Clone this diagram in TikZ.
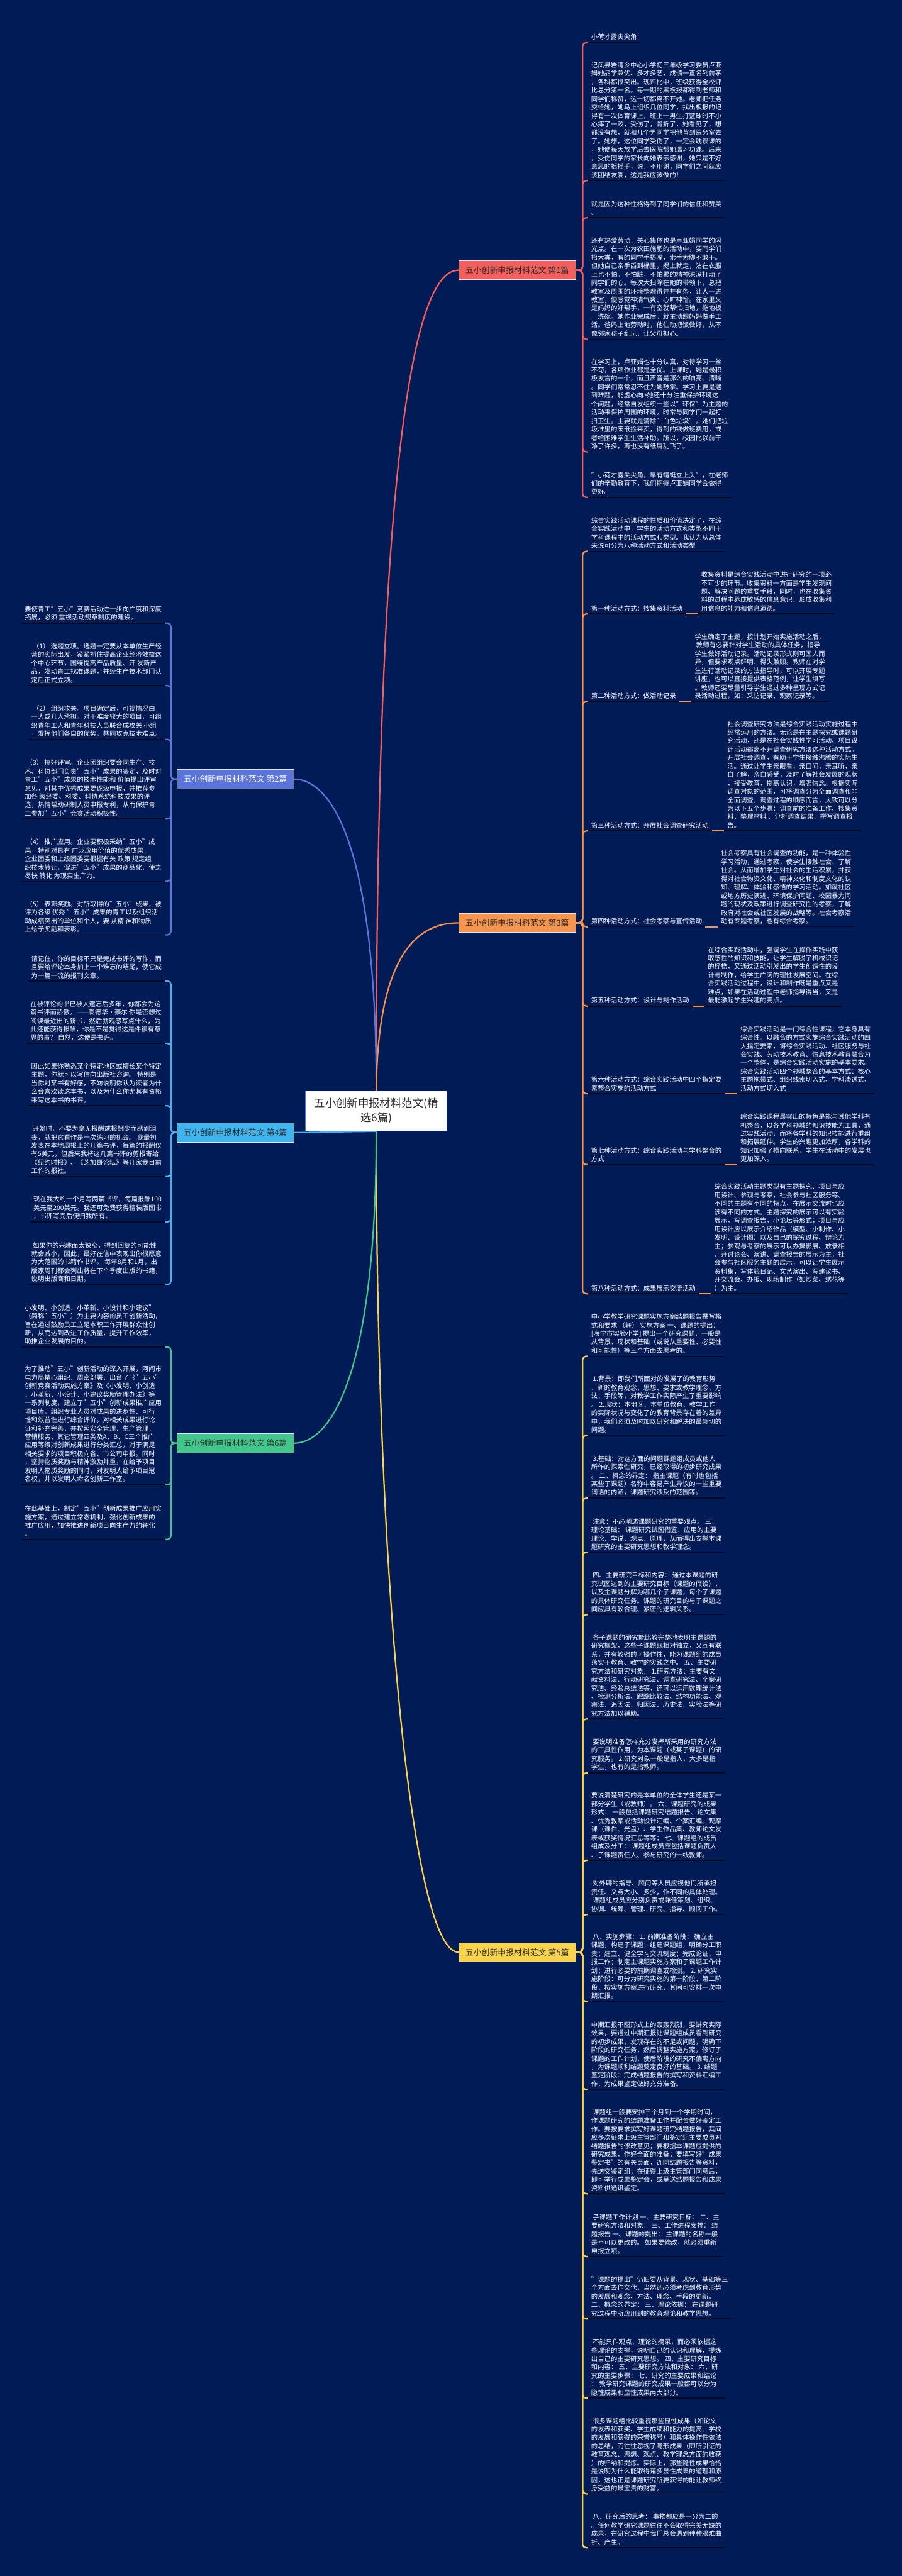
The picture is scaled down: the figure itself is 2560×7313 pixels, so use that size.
\documentclass[tikz,border=0pt]{standalone}
\usepackage{fontspec}
\setmainfont{Noto Sans CJK SC}
\usetikzlibrary{positioning,backgrounds}

% 颜色
\definecolor{bgnavy}{HTML}{011B56}
\definecolor{ulinecol}{HTML}{04081C}
\definecolor{txtdark}{HTML}{2B2B2B}
\definecolor{rootline}{HTML}{4A78DC}
\definecolor{c1col}{HTML}{F25F5C}
\definecolor{c2col}{HTML}{5B74DA}
\definecolor{c3col}{HTML}{F7944E}
\definecolor{c4col}{HTML}{3FB5F0}
\definecolor{c5col}{HTML}{FBD44B}
\definecolor{c6col}{HTML}{41C78C}

\newcommand{\leaffont}{\fontsize{18.5}{24}\selectfont}
\newcommand{\branchfont}{\fontsize{23}{26}\selectfont}
\newcommand{\rootfont}{\fontsize{31}{42}\selectfont}

\tikzset{
  leaf/.style={align=left, text=white, font=\leaffont, inner xsep=9, inner ysep=7},
  uline/.style={draw=ulinecol, line width=3},
  branch/.style={draw=white!80!gray, line width=1.2, minimum width=332, minimum height=54,
    inner xsep=13, font=\branchfont},
  root/.style={fill=white, draw=rootline, line width=2, minimum width=402, minimum height=114,
    align=center, text=txtdark, font=\rootfont},
  link/.style={line width=4, line cap=round},
  spine/.style={line width=4, rounded corners=10},
}

\begin{document}
\begin{tikzpicture}[x=1pt, y=-1pt]
\useasboundingbox (0,0) rectangle (2560,7313);

% 中心主题
\node[root] (root) at (1068,3154) {五小创新申报材料范文(精\\选6篇)};

% 六个分支
\node[branch, fill=c1col, text=txtdark] (b1) at (1468,767) {五小创新申报材料范文 第1篇};
\node[branch, fill=c2col, text=white] (b2) at (668,2212) {五小创新申报材料范文 第2篇};
\node[branch, fill=c3col, text=txtdark] (b3) at (1468,2620) {五小创新申报材料范文 第3篇};
\node[branch, fill=c4col, text=txtdark] (b4) at (668,3215) {五小创新申报材料范文 第4篇};
\node[branch, fill=c5col, text=txtdark] (b5) at (1468,5542) {五小创新申报材料范文 第5篇};
\node[branch, fill=c6col, text=txtdark] (b6) at (668,4097) {五小创新申报材料范文 第6篇};

% 第1篇
\node[leaf, anchor=south west] (r1) at (1669,121) {小荷才露尖尖角};
\node[leaf, anchor=south west] (r2) at (1669,513) {记凤县岩湾乡中心小学初三年级学习委员卢亚\\
娟她品学兼优、多才多艺，成绩一直名列前茅\\
，各科都很突出。现评比中，班级获得全校评\\
比总分第一名。每一期的黑板报都得到老师和\\
同学们称赞，这一切都离不开她。老师把任务\\
交给她，她马上组织几位同学，找出板报的记\\
得有一次体育课上，班上一男生打蓝球时不小\\
心摔了一跤，受伤了，骨折了，她看见了，想\\
都没有想，就和几个男同学把他背到医务室去\\
了。她想，这位同学受伤了，一定会耽误课的\\
，她便每天放学后去医院帮她温习功课。后来\\
，受伤同学的家长向她表示感谢，她只是不好\\
意思的摇摇手，说：不用谢，同学们之间就应\\
该团结友爱，这是我应该做的！};
\node[leaf, anchor=south west] (r3) at (1669,618) {就是因为这种性格得到了同学们的信任和赞美\\
。};
\node[leaf, anchor=south west] (r4) at (1669,963) {还有热爱劳动，关心集体也是卢亚娟同学的闪\\
光点。在一次为农田施肥的活动中，要同学们\\
抬大粪，有的同学手捂嘴，索手索脚不敢干。\\
但她自己亲手舀到桶里，提上就走，沾在衣服\\
上也不怕。不怕脏，不怕累的精神深深打动了\\
同学们的心。每次大扫除在她的带领下，总把\\
教室及周围的环境整理得井井有条，让人一进\\
教室，便感觉神清气爽、心旷神怡。在家里又\\
是妈妈的好帮手，一有空就帮忙扫地，拖地板\\
，洗碗。她作业完成后，就主动跟妈妈做手工\\
活。爸妈上地劳动时，他住动把饭做好，从不\\
像邻家孩子乱玩，让父母担心。};
\node[leaf, anchor=south west] (r5) at (1669,1283) {在学习上，卢亚娟也十分认真，对待学习一丝\\
不苟，各项作业都是全优。上课时，她是最积\\
极发言的一个，而且声音是那么的响亮、清晰\\
。同学们常常忍不住为她鼓掌。学习上要是遇\\
到难题，能虚心向>她还十分注重保护环境这\\
个问题，经常自发组织一些以"环保"为主题的\\
活动来保护周围的环境。时常与同学们一起打\\
扫卫生。主要就是清除"白色垃圾"。她们把垃\\
圾堆里的废纸捡来卖，得到的钱做班费用，或\\
者给困难学生生活补助。所以，校园比以前干\\
净了许多，再也没有纸屑乱飞了。};
\node[leaf, anchor=south west] (r6) at (1669,1412) {"小荷才露尖尖角，早有蜻蜓立上头"，在老师\\
们的辛勤教育下，我们期待卢亚娟同学会做得\\
更好。};

% 第3篇
\node[leaf, anchor=south west] (t0) at (1669,1565) {综合实践活动课程的性质和价值决定了，在综\\
合实践活动中，学生的活动方式和类型不同于\\
学科课程中的活动方式和类型。我认为从总体\\
来说可分为八种活动方式和活动类型};
\node[leaf, anchor=south west] (k1) at (1669,1743) {第一种活动方式：搜集资料活动};
\node[leaf, anchor=south west] (k1-d) at ([xshift=35]k1.south east) {收集资料是综合实践活动中进行研究的一项必\\
不可少的环节。收集资料一方面是学生发现问\\
题、解决问题的重要手段，同时，也在收集资\\
料的过程中养成敏感的信息意识、形成收集利\\
用信息的能力和信息道德。};
\node[leaf, anchor=south west] (k2) at (1669,1992) {第二种活动方式：做活动记录};
\node[leaf, anchor=south west] (k2-d) at ([xshift=35]k2.south east) {学生确定了主题，按计划开始实施活动之后，\\
\ 教师有必要针对学生活动的具体任务，指导\\
学生做好活动记录。活动记录形式则可因人而\\
异，但要求观点鲜明、得失兼顾。教师在对学\\
生进行活动记录的方法指导时，可以开展专题\\
讲座，也可以直接提供表格范例，让学生填写\\
。教师还要尽量引导学生通过多种呈现方式记\\
录活动过程，如：采访记录、观察记录等。};
\node[leaf, anchor=south west] (k3) at (1669,2359) {第三种活动方式：开展社会调查研究活动};
\node[leaf, anchor=south west] (k3-d) at ([xshift=35]k3.south east) {社会调查研究方法是综合实践活动实施过程中\\
经常运用的方法。无论是在主题探究或课题研\\
究活动，还是在社会实践性学习活动、项目设\\
计活动都离不开调查研究方法这种活动方式。\\
开展社会调查，有助于学生接触沸腾的实际生\\
活。通过让学生亲眼看，亲口问，亲耳听，亲\\
自了解，亲自感受，及时了解社会发展的现状\\
，接受教育，提高认识，增强信念。根据实际\\
调查对象的范围，可将调查分为全面调查和非\\
全面调查。调查过程的顺序而言，大致可以分\\
为以下五个步骤：调查前的准备工作、搜集资\\
料、整理材料 、分析调查结果、撰写调查报\\
告。};
\node[leaf, anchor=south west] (k4) at (1669,2631) {第四种活动方式：社会考察与宣传活动};
\node[leaf, anchor=south west] (k4-d) at ([xshift=35]k4.south east) {社会考察具有社会调查的功能，是一种体验性\\
学习活动，通过考察，使学生接触社会、了解\\
社会。从而增加学生对社会的生活积累，并获\\
得对社会物资文化、精神文化和制度文化的认\\
知、理解、体验和感悟的学习活动。如就社区\\
或地方历史演进、环境保护问题、校园暴力问\\
题的现状及政策进行调查研究性的考察，了解\\
政府对社会或社区发展的战略等。社会考察活\\
动有专题考察，也有综合考察。};
\node[leaf, anchor=south west] (k5) at (1669,2856) {第五种活动方式：设计与制作活动};
\node[leaf, anchor=south west] (k5-d) at ([xshift=35]k5.south east) {在综合实践活动中，强调学生在操作实践中获\\
取感性的知识和技能，让学生解脱了机械识记\\
的桎梏，又通过活动引发出的学生创造性的设\\
计与制作，给学生广阔的理性发展空间。在综\\
合实践活动过程中，设计和制作既是重点又是\\
难点，如果在活动过程中老师指导得当，又是\\
最能激起学生兴趣的亮点。};
\node[leaf, anchor=south west] (k6) at (1669,3105) {第六种活动方式：综合实践活动中四个指定要\\
素整合实施的活动方式};
\node[leaf, anchor=south west] (k6-d) at ([xshift=35]k6.south east) {综合实践活动是一门综合性课程，它本身具有\\
综合性。以融合的方式实施综合实践活动的四\\
大指定要素，将综合实践活动、社区服务与社\\
会实践、劳动技术教育、信息技术教育融合为\\
一个整体，是综合实践活动实施的基本要求。\\
综合实践活动四个领域整合的基本方式：核心\\
主题拖带式、组织线索切入式、学科渗透式、\\
活动方式切入式};
\node[leaf, anchor=south west] (k7) at (1669,3306) {第七种活动方式：综合实践活动与学科整合的\\
方式};
\node[leaf, anchor=south west] (k7-d) at ([xshift=35]k7.south east) {综合实践课程最突出的特色是能与其他学科有\\
机整合，以各学科领域的知识技能为工具，通\\
过实践活动，而将各学科的知识技能进行重组\\
和拓展延伸。学生的兴趣更加浓厚，各学科的\\
知识加强了横向联系，学生在活动中的发展也\\
更加深入。};
\node[leaf, anchor=south west] (k8) at (1669,3673) {第八种活动方式：成果展示交流活动};
\node[leaf, anchor=south west] (k8-d) at ([xshift=35]k8.south east) {综合实践活动主题类型有主题探究、项目与应\\
用设计、参观与考察，社会参与社区服务等。\\
不同的主题有不同的特点，在展示交流时也应\\
该有不同的方式。主题探究的展示可以有实验\\
展示，写调查报告，小论坛等形式；项目与应\\
用设计应以展示介绍作品（模型、小制作、小\\
发明、设计图）以及自己的探究过程、辩论为\\
主；参观与考察的展示可以办摄影展、放录相\\
、开讨论会、演讲、调查报告的展示为主；社\\
会参与社区服务主题的展示，可以让学生展示\\
资料集，写体验日记、文艺演出、写建议书、\\
开交流会、办报、现场制作（如炒菜、绣花等\\
）为主。};

% 第5篇
\node[leaf, anchor=south west] (y1) at (1669,3850) {中小学教学研究课题实施方案结题报告撰写格\\
式和要求 （转） 实施方案 一、课题的提出：\\
{[}海宁市实验小学{]} 提出一个研究课题，一般是\\
从背景、现状和基础（或说从重要性、必要性\\
和可能性）等三个方面去思考的。};
\node[leaf, anchor=south west] (y2) at (1669,4075) {\ 1.背景：即我们所面对的发展了的教育形势\\
、新的教育观念、思想、要求或教学理念、方\\
法、手段等，对教学工作实际产生了重要影响\\
。 2.现状：本地区、本单位教育、教学工作\\
的实际状况与变化了的教育背景存在着的差异\\
中，我们必须及时加以研究和解决的最急切的\\
问题。};
\node[leaf, anchor=south west] (y3) at (1669,4253) {\ 3.基础：对这方面的问题课题组成员或他人\\
所作的探索性研究，已经取得的初步研究成果\\
。 二、概念的界定： 指主课题（有时也包括\\
某些子课题）名称中容易产生异议的一些重要\\
词语的内涵，课题研究涉及的范围等。};
\node[leaf, anchor=south west] (y4) at (1669,4407) {\ 注意：不必阐述课题研究的重要观点。 三、\\
理论基础： 课题研究试图借鉴、应用的主要\\
理论、学说、观点、原理，从而得出支撑本课\\
题研究的主要研究思想和教学理念。};
\node[leaf, anchor=south west] (y5) at (1669,4584) {\ 四、主要研究目标和内容： 通过本课题的研\\
究试图达到的主要研究目标（课题的假设），\\
以及主课题分解为哪几个子课题，每个子课题\\
的具体研究任务。课题的研究目的与子课题之\\
间应具有较合理、紧密的逻辑关系。};
\node[leaf, anchor=south west] (y6) at (1669,4880) {\ 各子课题的研究能比较完整地表明主课题的\\
研究框架，这些子课题既相对独立，又互有联\\
系，并有较强的可操作性，能为课题组的成员\\
落实于教育、教学的实践之中。 五、主要研\\
究方法和研究对象： 1.研究方法：主要有文\\
献资料法、行动研究法、调查研究法、个案研\\
究法、经验总结法等，还可以运用数理统计法\\
、检测分析法、跟踪比较法、结构功能法、观\\
察法、追因法、归因法、历史法、实验法等研\\
究方法加以辅助。};
\node[leaf, anchor=south west] (y7) at (1669,5033) {\ 要说明准备怎样充分发挥所采用的研究方法\\
的工具性作用，为本课题（或某子课题）的研\\
究服务。 2.研究对象一般是指人，大多是指\\
学生，也有的是指教师。};
\node[leaf, anchor=south west] (y8) at (1669,5281) {要说清楚研究的是本单位的全体学生还是某一\\
部分学生（或教师）。 六、课题研究的成果\\
形式： 一般包括课题研究结题报告、论文集\\
、优秀教案或活动设计汇编、个案汇编、观摩\\
课（课件、光盘）、学生作品集、教师论文发\\
表或获奖情况汇总等等； 七、课题组的成员\\
组成及分工： 课题组成员应包括课题负责人\\
、子课题责任人、参与研究的一线教师。};
\node[leaf, anchor=south west] (y9) at (1669,5435) {\ 对外聘的指导、顾问等人员应视他们所承担\\
责任、义务大小、多少，作不同的具体处理。\\
\ 课题组成员应分别负责或兼任策划、组织、\\
协调、统筹、管理、研究、指导、顾问工作。};
\node[leaf, anchor=south west] (y10) at (1669,5682) {\ 八、实施步骤： 1. 前期准备阶段： 确立主\\
课题，构建子课题；组建课题组，明确分工职\\
责；建立、健全学习交流制度；完成论证、申\\
报工作；制定主课题实施方案和子课题工作计\\
划；进行必要的前期调查或检测。 2. 研究实\\
施阶段：可分为研究实施的第一阶段、第二阶\\
段，按实施方案进行研究，其间可安排一次中\\
期汇报。};
\node[leaf, anchor=south west] (y11) at (1669,5932) {中期汇报不图形式上的轰轰烈烈，要讲究实际\\
效果，要通过中期汇报让课题组成员看到研究\\
的初步成果，发现存在的不足或问题，明确下\\
阶段的研究任务，然后调整实施方案，修订子\\
课题的工作计划，使后阶段的研究不偏离方向\\
，为课题顺利结题奠定良好的基础。 3. 结题\\
鉴定阶段：完成结题报告的撰写和资料汇编工\\
作，为成果鉴定做好充分准备。};
\node[leaf, anchor=south west] (y12) at (1669,6228) {\ 课题组一般要安排三个月到一个学期时间，\\
作课题研究的结题准备工作并配合做好鉴定工\\
作。要按要求撰写好课题研究结题报告，其间\\
应多次征求上级主管部门和鉴定组主要成员对\\
结题报告的修改意见；要根据本课题应提供的\\
研究成果，作好全面的准备；要填写好"成果\\
鉴定书"的有关页面，连同结题报告等资料，\\
先送交鉴定组；在征得上级主管部门同意后，\\
即可举行成果鉴定会，或呈送结题报告和成果\\
资料供通讯鉴定。};
\node[leaf, anchor=south west] (y13) at (1669,6406) {\ 子课题工作计划 一、主要研究目标： 二、主\\
要研究方法和对象： 三、工作进程安排： 结\\
题报告 一、课题的提出： 主课题的名称一般\\
是不可以更改的。 如果要修改，就必须重新\\
申报立项。};
\node[leaf, anchor=south west] (y14) at (1669,6583) {"课题的提出"仍旧要从背景、现状、基础等三\\
个方面去作交代，当然还必须考虑到教育形势\\
的发展和观念、方法、理念、手段的更新。\\
二、概念的界定： 三、理论依据： 在课题研\\
究过程中所应用到的教育理论和教学思想。};
\node[leaf, anchor=south west] (y15) at (1669,6808) {\ 不能只作观点、理论的摘录，而必须依据这\\
些理论的支撑，说明自己的认识和理解，提炼\\
出自己的主要研究思想。 四、主要研究目标\\
和内容： 五、主要研究方法和对象： 六、研\\
究的主要步骤： 七、研究的主要成果和结论\\
： 教学研究课题的研究成果一般都可以分为\\
隐性成果和显性成果两大部分。};
\node[leaf, anchor=south west] (y16) at (1669,7080) {\ 很多课题组比较重视那些显性成果（如论文\\
的发表和获奖、学生成绩和能力的提高、学校\\
的发展和获得的荣誉称号）和具体操作性做法\\
的总结，而往往忽视了隐形成果（即所引证的\\
教育观念、思想、观点、教学理念方面的收获\\
）的归纳和提炼。实际上，那些隐性成果恰恰\\
是说明为什么能取得诸多显性成果的道理和原\\
因，这也正是课题研究所要获得的能让教师终\\
身受益的最宝贵的财富。};
\node[leaf, anchor=south west] (y17) at (1669,7233) {\ 八、研究后的思考： 事物都应是一分为二的\\
。任何教学研究课题往往不会取得完美无缺的\\
成果，在研究过程中我们总会遇到种种艰难曲\\
折、产生。};

% 第2篇
\node[leaf, anchor=south east] (p1) at (468,1769) {要使青工"五小"竞赛活动进一步向广度和深度\\
拓展，必须 重视活动规章制度的建设。};
\node[leaf, anchor=south east] (p2) at (468,1946) {\ （1） 选题立项。选题一定要从本单位生产经\\
营的实际出发，紧紧抓住提高企业经济效益这\\
个中心环节，围绕提高产品质量、开 发新产\\
品，发动青工找准课题，并经生产技术部门认\\
定后正式立项。};
\node[leaf, anchor=south east] (p3) at (468,2099) {\ （2） 组织攻关。项目确定后，可视情况由\\
一人或几人承担，对于难度较大的项目，可组\\
织青年工人和青年科技人员联合成攻关 小组\\
，发挥他们各自的优势，共同攻克技术难点。};
\node[leaf, anchor=south east] (p4) at (468,2325) {\ （3） 搞好评审。企业团组织要会同生产、技\\
术、科协部门负责"五小"成果的鉴定，及时对\\
青工"五小"成果的技术性能和 价值提出评审\\
意见，对其中优秀成果要逐级申报，并推荐参\\
加各 级经委、科委、科协系统科技成果的评\\
选，热情帮助研制人员申报专利，从而保护青\\
工参加"五小"竞赛活动积极性。};
\node[leaf, anchor=south east] (p5) at (468,2502) {\ （4） 推广应用。企业要积极采纳"五小"成\\
果，特别对具有 广泛应用价值的优秀成果，\\
企业团委和上级团委要根据有关 政策 规定组\\
织技术转让，促进"五小"成果的商品化，使之\\
尽快 转化 为现实生产力。};
\node[leaf, anchor=south east] (p6) at (468,2654) {\ （5） 表彰奖励。对所取得的"五小"成果，被\\
评为各级 优秀 "五小"成果的青工以及组织活\\
动成绩突出的单位和个人，要 从精 神和物质\\
上给予奖励和表彰。};

% 第4篇
\node[leaf, anchor=south east] (q1) at (468,2785) {请记住，你的目标不只是完成书评的写作，而\\
且要给评论本身加上一个难忘的结尾，使它成\\
为一篇一流的报刊文章。};
\node[leaf, anchor=south east] (q2) at (468,2962) {在被评论的书已被人遗忘后多年，你都会为这\\
篇书评而骄傲。 ——爱德华·豪尔 你是否想过\\
阅读最近出的新书，然后就观感写点什么，为\\
此还能获得报酬，你是不是觉得这是件很有意\\
思的事？ 自然，这便是书评。};
\node[leaf, anchor=south east] (q3) at (468,3139) {因此如果你熟悉某个特定地区或擅长某个特定\\
主题，你就可以写信向出版社咨询。 特别是\\
当你对某书有好感，不妨说明你认为读者为什\\
么会喜欢读这本书，以及为什么你尤其有资格\\
来写这本书的书评。};
\node[leaf, anchor=south east] (q4) at (468,3340) {\ 开始时，不要为毫无报酬或报酬少而感到沮\\
丧，就把它看作是一次练习的机会。 我最初\\
发表在本地周报上的几篇书评，每篇的报酬仅\\
有5美元，但后来我将这几篇书评的剪报寄给\\
《纽约时报》、《芝加哥论坛》等几家我目前\\
工作的报社。};
\node[leaf, anchor=south east] (q5) at (468,3469) {现在我大约一个月写两篇书评，每篇报酬100\\
美元至200美元。我还可免费获得精装版图书\\
，书评写完后便归我所有。};
\node[leaf, anchor=south east] (q6) at (468,3647) {\ 如果你的兴趣面太狭窄，得到回复的可能性\\
就会减小，因此，最好在信中表现出你很愿意\\
为大范围的书籍作书评。 每年8月和1月，出\\
版家周刊都会列出将在下个季度出版的书籍，\\
说明出版商和日期。};

% 第6篇
\node[leaf, anchor=south east] (g1) at (468,3824) {小发明、小创造、小革新、小设计和小建议"\\
（简称"五小"）为主要内容的员工创新活动，\\
旨在通过鼓励员工立足本职工作开展群众性创\\
新，从而达到改进工作质量，提升工作效率，\\
助推企业发展的目的。};
\node[leaf, anchor=south east] (g2) at (468,4215) {为了推动"五小"创新活动的深入开展，河间市\\
电力局精心组织、周密部署，出台了《"五小"\\
创新竞赛活动实施方案》及《小发明、小创造\\
、小革新、小设计、小建议奖励管理办法》等\\
一系列制度，建立了"五小"创新成果推广应用\\
项目库，组织专业人员对成果的进步性、可行\\
性和效益性进行综合评价，对相关成果进行论\\
证和补充完善，并按照安全管理、生产管理、\\
营销服务、其它管理四类及A、B、C三个推广\\
应用等级对创新成果进行分类汇总，对于满足\\
相关要求的项目积极向省、市公司申报。同时\\
，坚持物质奖励与精神激励并重，在给予项目\\
发明人物质奖励的同时，对发明人给予项目冠\\
名权，并以发明人命名创新工作室。};
\node[leaf, anchor=south east] (g3) at (468,4370) {在此基础上，制定"五小"创新成果推广应用实\\
施方案，通过建立常态机制，强化创新成果的\\
推广应用，加快推进创新项目向生产力的转化\\
。};

% 背景与中心连线
\begin{scope}[on background layer]
  \fill[bgnavy] (0,0) rectangle (2560,7313);
  \draw[link, c1col] (root.north) .. controls (1068,1000) and (1215,767) .. (b1.west);
  \draw[link, c2col] (root.north) .. controls (1068,2400) and (940,2212) .. (b2.east);
  \draw[link, c3col] (root.north) .. controls (1072,2700) and (1190,2620) .. (b3.west);
  \draw[link, c4col] (root.south) to[out=180, in=0] (b4.east);
  \draw[link, c5col] (root.south) .. controls (1068,4500) and (1170,5542) .. (b5.west);
  \draw[link, c6col] (root.south) .. controls (1068,3900) and (940,4097) .. (b6.east);
\end{scope}

% 分支到叶子
\foreach \n in {r1,r2,r3,r4,r5,r6}
  \draw[spine, c1col] (b1.east) -- ++(19,0) |- (\n.south west);
\foreach \n in {t0,k1,k2,k3,k4,k5,k6,k7,k8}
  \draw[spine, c3col] (b3.east) -- ++(19,0) |- (\n.south west);
\foreach \n in {k1,k2,k3,k4,k5,k6,k7,k8}
  \draw[c3col, line width=4] (\n.south east) -- (\n-d.south west);
\foreach \n in {y1,y2,y3,y4,y5,y6,y7,y8,y9,y10,y11,y12,y13,y14,y15,y16,y17}
  \draw[spine, c5col] (b5.east) -- ++(19,0) |- (\n.south west);
\foreach \n in {p1,p2,p3,p4,p5,p6}
  \draw[spine, c2col] (b2.west) -- ++(-16,0) |- (\n.south east);
\foreach \n in {q1,q2,q3,q4,q5,q6}
  \draw[spine, c4col] (b4.west) -- ++(-16,0) |- (\n.south east);
\foreach \n in {g1,g2,g3}
  \draw[spine, c6col] (b6.west) -- ++(-16,0) |- (\n.south east);

% 下划线
\foreach \n in {r1,r2,r3,r4,r5,r6,t0,k1,k2,k3,k4,k5,k6,k7,k8,
  k1-d,k2-d,k3-d,k4-d,k5-d,k6-d,k7-d,k8-d,
  y1,y2,y3,y4,y5,y6,y7,y8,y9,y10,y11,y12,y13,y14,y15,y16,y17,
  p1,p2,p3,p4,p5,p6,q1,q2,q3,q4,q5,q6,g1,g2,g3}
  \draw[uline] (\n.south west) -- (\n.south east);
\end{tikzpicture}
\end{document}
